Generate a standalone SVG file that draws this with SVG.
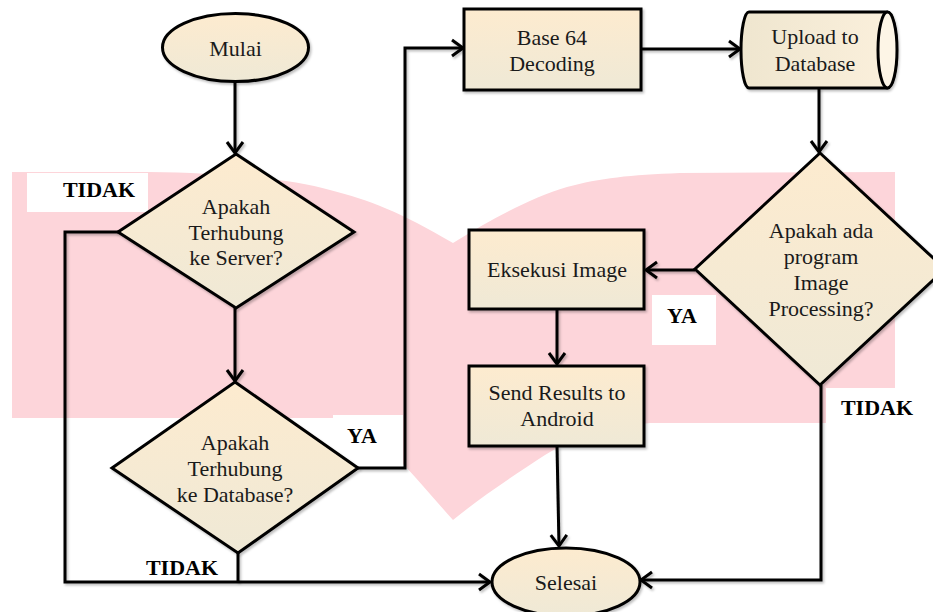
<svg xmlns="http://www.w3.org/2000/svg" width="933" height="612" viewBox="0 0 933 612">
<defs>
<linearGradient id="fillV" x1="0" y1="0" x2="0" y2="1">
<stop offset="0" stop-color="#fdebcf"/>
<stop offset="1" stop-color="#efe9d6"/>
</linearGradient>
<linearGradient id="fillH" x1="0" y1="0" x2="1" y2="0">
<stop offset="0" stop-color="#efe6cf"/>
<stop offset="1" stop-color="#fbf0dc"/>
</linearGradient>
<filter id="sh" filterUnits="userSpaceOnUse" x="0" y="0" width="933" height="612">
<feDropShadow dx="1.5" dy="2" stdDeviation="1.2" flood-color="#000" flood-opacity="0.25"/>
</filter>
<marker id="arr" markerUnits="userSpaceOnUse" markerWidth="16" markerHeight="20" viewBox="0 0 16 20" refX="13" refY="10" orient="auto">
<path d="M2,2 L13,10 L2,18" fill="none" stroke="#000" stroke-width="3" stroke-linejoin="miter"/>
</marker>
<style>
.node{stroke:#000;stroke-width:3;fill:url(#fillV);filter:url(#sh)}
.t{font-family:'Liberation Serif','DejaVu Serif',serif;font-size:22px;fill:#1a1a1a;text-anchor:middle}
.lb{font-family:'Liberation Serif','DejaVu Serif',serif;font-size:22px;font-weight:bold;fill:#000;text-anchor:middle}
.c{fill:none;stroke:#000;stroke-width:3;filter:url(#sh)}
.box{fill:#fff;stroke:none}
</style>
</defs>
<rect width="933" height="612" fill="#fff"/>
<g id="background">
<path d="M12,172 L150,172 C220,173 290,178 330,190 C370,200 400,212 453,243 C490,220 530,198 567,187 C600,178 630,175 680,173 L895,172 L895,423 L650,423 C600,428 570,440 545,455 C510,478 480,498 453,520 C435,500 420,482 405,466 C380,440 360,425 335,418 L12,418 Z" fill="#fdd5da"/>
</g>
<g id="label-boxes">
<rect class="box" x="27" y="173" width="121" height="39"/>
<rect class="box" x="333" y="415" width="70" height="51"/>
<rect class="box" x="652" y="295" width="64" height="50"/>
<rect class="box" x="826" y="388" width="100" height="42"/>
</g>
<g id="connectors">
<path class="c" d="M235,82 V153" marker-end="url(#arr)"/>
<path class="c" d="M235,308 V381" marker-end="url(#arr)"/>
<path class="c" d="M118,232 H65 V582 H490" marker-end="url(#arr)"/>
<path class="c" d="M238,553 V582"/>
<path class="c" d="M358,468 H405 V48 H463" marker-end="url(#arr)"/>
<path class="c" d="M641,49 H740" marker-end="url(#arr)"/>
<path class="c" d="M819,88 V152" marker-end="url(#arr)"/>
<path class="c" d="M695,270 H646" marker-end="url(#arr)"/>
<path class="c" d="M557,309 V364" marker-end="url(#arr)"/>
<path class="c" d="M557,446 L559,546" marker-end="url(#arr)"/>
<path class="c" d="M821,385 V580 H641" marker-end="url(#arr)"/>
</g>
<g id="labels" font-family="'Liberation Serif', serif">
<text class="lb" x="99" y="197">TIDAK</text>
<text class="lb" x="362" y="443">YA</text>
<text class="lb" x="682" y="323">YA</text>
<text class="lb" x="877" y="415">TIDAK</text>
<text class="lb" x="182" y="575">TIDAK</text>
</g>
<g id="mulai">
<ellipse class="node" cx="235.5" cy="47.5" rx="73" ry="34"/>
<text class="t" x="235.5" y="56">Mulai</text>
</g>
<g id="cek-server">
<polygon class="node" points="236,154 354,232 236,308 118,232"/>
<text class="t" x="236" y="214">Apakah</text>
<text class="t" x="236" y="240">Terhubung</text>
<text class="t" x="236" y="265">ke Server?</text>
</g>
<g id="cek-database">
<polygon class="node" points="235,382 358,468 238,553 112,468"/>
<text class="t" x="235" y="450">Apakah</text>
<text class="t" x="235" y="476">Terhubung</text>
<text class="t" x="235" y="502">ke Database?</text>
</g>
<g id="base64">
<rect class="node" x="464" y="9" width="177" height="81"/>
<text class="t" x="552" y="45">Base 64</text>
<text class="t" x="552" y="71">Decoding</text>
</g>
<g id="upload">
<path class="node" style="fill:url(#fillH)" d="M749,12 H887 A9.5,38 0 0 1 887,88 H749 A8,38 0 0 1 749,12 Z"/>
<ellipse cx="887.5" cy="50" rx="9.5" ry="38" fill="#fdf5e6" stroke="#000" stroke-width="3"/>
<text class="t" x="815" y="44">Upload to</text>
<text class="t" x="815" y="71">Database</text>
</g>
<g id="cek-program">
<polygon class="node" points="820,153 945,269 820,385 695,269"/>
<text class="t" x="821" y="238">Apakah ada</text>
<text class="t" x="821" y="264">program</text>
<text class="t" x="821" y="290">Image</text>
<text class="t" x="821" y="316">Processing?</text>
</g>
<g id="eksekusi">
<rect class="node" x="469" y="230" width="175" height="79"/>
<text class="t" x="557" y="277">Eksekusi Image</text>
</g>
<g id="send">
<rect class="node" x="469" y="366" width="175" height="80"/>
<text class="t" x="557" y="400">Send Results to</text>
<text class="t" x="557" y="426">Android</text>
</g>
<g id="selesai">
<ellipse class="node" cx="566" cy="582" rx="74" ry="34"/>
<text class="t" x="566" y="590">Selesai</text>
</g>
</svg>
